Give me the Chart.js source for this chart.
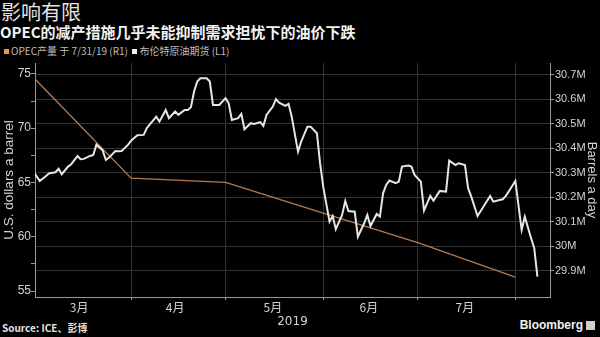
<!DOCTYPE html>
<html>
<head>
<meta charset="utf-8">
<script src="https://cdn.jsdelivr.net/npm/chart.js@4"></script>
<style>
  html, body { margin: 0; padding: 0; background: #000; }
  body { width: 600px; height: 337px; position: relative; overflow: hidden;
         font-family: "Noto Sans CJK SC", "Liberation Sans", sans-serif; }
  #chart { position: absolute; left: 0; top: 0; }
  .txt { position: absolute; white-space: nowrap; }
  #title { left: 1px; top: -3px; font-size: 20px; color: #e4e4e4; }
  #subtitle { left: 0; top: 21px; font-size: 15px; font-weight: bold; color: #f2f2f2; }
  #legend { left: 4px; top: 43px; font-size: 10px; color: #bdbdbd; }
  #legend i { display: inline-block; width: 5px; height: 5px; margin-right: 2px; vertical-align: 1px; }
  #source { left: 2px; top: 320px; font-size: 10px; font-weight: bold; color: #e0e0e0; }
  #brand { right: 5px; top: 318px; font-size: 12px; font-weight: bold; color: #f0f0f0;
           font-family: "Liberation Sans", sans-serif; }
  #brand i { display: inline-block; width: 9px; height: 9px; background: #cfcfcf; margin-left: 3px; vertical-align: -1px; }
</style>
</head>
<body>
<div class="txt" id="title">影响有限</div>
<div class="txt" id="subtitle">OPEC的减产措施几乎未能抑制需求担忧下的油价下跌</div>
<div class="txt" id="legend"><i style="background:#e8963c"></i>OPEC产量 于 7/31/19 (R1) &nbsp;<i style="background:#f0f0f0"></i>布伦特原油期货 (L1)</div>
<div class="txt" id="source">Source: ICE、彭博</div>
<div class="txt" id="brand">Bloomberg<i></i></div>
<canvas id="chart" width="600" height="337"></canvas>
<script>
// ── Data (x = days since 2019-03-01) ─────────────────
const brentDays = [0, 2, 4, 5, 7, 8, 9, 11, 12, 14, 15, 16, 18, 19, 20, 22, 23, 24, 26, 27, 28, 30,
  31, 33, 35, 36, 39, 40, 42, 43, 45, 46, 48, 49, 50, 51, 52, 53, 55, 56, 57, 59, 61, 62,
  63, 65, 66, 67, 69, 70, 72, 73, 74, 76, 77, 78, 80, 81, 82, 84, 85, 87, 88, 90,
  91, 92, 94, 95, 96, 98, 99, 100, 102, 103, 105, 106, 107, 109, 110, 111, 112, 113, 115, 116,
  117, 119, 120, 121, 123, 124, 126, 127, 129, 131, 132, 134, 135, 137, 138, 139, 141, 143,
  145, 146, 148, 149, 150, 152, 153, 155, 156, 158, 159, 160];
const brentPrices = [66.0, 65.14, 65.6, 65.85, 65.94, 66.27, 65.76, 66.46, 66.68, 67.44, 67.14, 67.17, 67.44, 67.53, 68.48, 67.93, 67.07, 67.29, 67.9, 67.88, 67.9, 68.46,
  68.85, 69.35, 69.38, 70.0, 71.06, 70.6, 71.68, 70.92, 71.53, 71.22, 71.68, 71.68, 71.93, 73.37, 74.29, 74.6, 74.6, 74.29, 72.14, 72.14, 72.76, 72.29,
  70.76, 70.92, 71.31, 69.9, 70.46, 70.39, 70.55, 70.21, 71.22, 71.99, 72.67, 72.35, 72.05, 72.24, 71.06, 67.84, 68.76, 70.14, 70.14, 69.53,
  66.77, 64.61, 61.39, 61.91, 60.69, 62.0, 63.29, 62.37, 62.31, 60.0, 61.24, 62.0, 60.99, 62.1, 61.85, 64.0, 64.77, 65.17, 64.93, 65.07,
  66.46, 66.55, 66.46, 65.69, 65.07, 62.4, 63.76, 63.32, 64.22, 64.15, 67.01, 66.61, 66.77, 66.61, 64.47, 63.69, 61.91, 62.83,
  63.76, 63.23, 63.39, 63.45, 63.76, 64.68, 65.14, 60.62, 61.85, 59.86, 58.94, 56.32];

const opecDays = [0, 31, 61, 92, 122, 153];
const opecOutput = [30.69, 30.278, 30.261, 30.135, 30.014, 29.873]; // million barrels a day

const priceTicks = [55, 57.5, 60, 62.5, 65, 67.5, 70, 72.5, 75];
const barrelTicks = [29.9, 30.0, 30.1, 30.2, 30.3, 30.4, 30.5, 30.6, 30.7];
const monthStarts = [31, 61, 92, 122, 153];
const monthMids = [14.5, 45, 76, 106.5, 137];
const monthLabels = ['3月', '4月', '5月', '6月', '7月'];

// ── Chart ────────────────────────────────────────────
const tickColor = '#d4d4d4';
const gridColor = '#333333';
const axisColor = '#9a9a9a';
const latin = 'Liberation Sans';

new Chart(document.getElementById('chart').getContext('2d'), {
  type: 'line',
  data: {
    datasets: [
      {
        label: '布伦特原油期货 (L1)',
        data: brentDays.map((d, i) => ({ x: d, y: brentPrices[i] })),
        borderColor: '#e6e6e6',
        borderWidth: 2,
        pointRadius: 0,
        tension: 0,
        yAxisID: 'y'
      },
      {
        label: 'OPEC产量 于 7/31/19 (R1)',
        data: opecDays.map((d, i) => ({ x: d, y: opecOutput[i] })),
        borderColor: '#b57a4e',
        borderWidth: 1.3,
        pointRadius: 0,
        tension: 0,
        yAxisID: 'y1'
      }
    ]
  },
  options: {
    responsive: false,
    animation: false,
    layout: { padding: { top: 63, left: 0, right: 0, bottom: 0 } },
    plugins: { legend: { display: false }, tooltip: { enabled: false } },
    scales: {
      x: {
        type: 'linear',
        min: 0.5,
        max: 164,
        afterBuildTicks: s => { s.ticks = [...monthStarts, ...monthMids].sort((a, b) => a - b).map(v => ({ value: v })); },
        afterFit: s => { s.height = 40; },
        border: { color: axisColor },
        grid: {
          color: c => monthStarts.includes(c.tick && c.tick.value) ? gridColor : 'rgba(0,0,0,0)',
          tickColor: c => monthStarts.includes(c.tick && c.tick.value) ? axisColor : 'rgba(0,0,0,0)',
          tickLength: 3
        },
        ticks: {
          autoSkip: false,
          maxRotation: 0,
          padding: 0,
          color: tickColor,
          font: { size: 12, family: 'Noto Sans CJK SC' },
          callback: v => { const i = monthMids.indexOf(v); return i >= 0 ? monthLabels[i] : ''; }
        },
        title: {
          display: true,
          text: '2019',
          color: tickColor,
          font: { size: 12, family: 'DejaVu Sans' },
          padding: { top: 0, bottom: 8 }
        }
      },
      y: {
        position: 'left',
        min: 54.45,
        max: 76,
        afterBuildTicks: s => { s.ticks = priceTicks.map(v => ({ value: v })); },
        afterFit: s => { s.width = 35; },
        border: { color: axisColor },
        grid: { drawOnChartArea: false, tickLength: 4, tickColor: axisColor },
        ticks: {
          padding: 0,
          color: tickColor,
          font: { size: 12, family: latin },
          callback: v => (v % 5 === 0 ? v : '')
        },
        title: {
          display: true,
          text: 'U.S. dollars a barrel',
          color: tickColor,
          font: { size: 13.5, family: latin },
          padding: { top: 1, bottom: 0 }
        }
      },
      y1: {
        position: 'right',
        min: 29.792,
        max: 30.749,
        afterBuildTicks: s => { s.ticks = barrelTicks.map(v => ({ value: v })); },
        afterFit: s => { s.width = 50; },
        border: { color: axisColor },
        grid: { color: gridColor, tickLength: 4, tickColor: axisColor },
        ticks: {
          padding: 1,
          color: tickColor,
          font: { size: 11, family: latin },
          callback: v => Number(v.toFixed(1)) + 'M'
        },
        title: {
          display: true,
          text: 'Barrels a day',
          color: tickColor,
          font: { size: 13, family: latin },
          padding: { top: 1, bottom: 0 }
        }
      }
    }
  }
});
</script>
</body>
</html>
